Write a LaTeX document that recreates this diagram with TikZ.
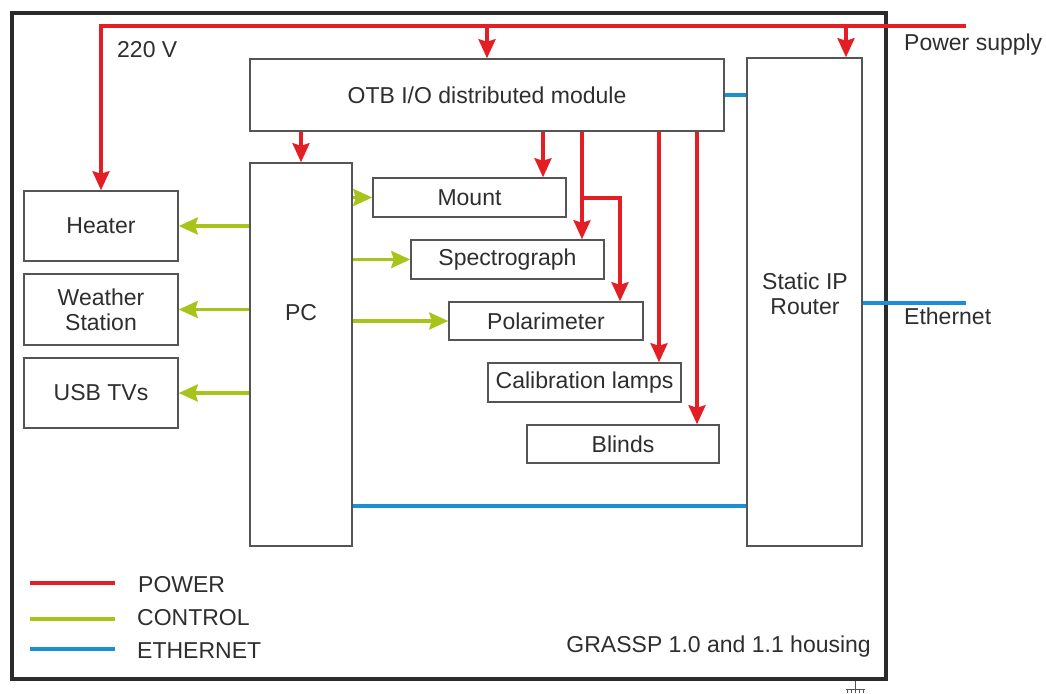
\documentclass[tikz,border=0pt]{standalone}
\usepackage{fontspec}
\setmainfont{Liberation Sans}
\usetikzlibrary{arrows.meta}
\definecolor{pwr}{HTML}{E31E24}
\definecolor{ctl}{HTML}{A8C41A}
\definecolor{eth}{HTML}{1A90D4}
\definecolor{txtc}{HTML}{2E2E2E}
\definecolor{boxc}{HTML}{555555}
\definecolor{framec}{HTML}{2B2B2B}
\tikzset{
  box/.style={draw=boxc, line width=1.5pt, fill=white, inner sep=0pt, text=txtc,
    font=\fontsize{23}{25}\selectfont, align=center},
  lbl/.style={inner sep=0pt, text=txtc, font=\fontsize{23}{25}\selectfont, align=center},
  pw/.style={draw=pwr, line width=3.3pt},
  ct/.style={draw=ctl, line width=3.3pt},
  et/.style={draw=eth, line width=3.3pt},
  tipA/.tip={Stealth[length=19pt, width=17pt, inset=2.5pt]},
}
\begin{document}
\begin{tikzpicture}[x=1pt,y=-1pt]
\useasboundingbox (0,0) rectangle (1046,693);
% housing frame
\draw[framec, line width=4.5pt] (12,13) rectangle (886,679);
% ground mark
\draw[boxc, line width=1pt] (855,681) -- (855,689);
\draw[boxc, line width=1pt] (846,689) -- (865,689);
\foreach \gx in {847,851,855,859,863} \draw[boxc, line width=0.8pt] (\gx,689) -- (\gx,693);

% boxes
\node[box, minimum width=474pt, minimum height=72pt] (otb) at (487,95) {OTB I/O distributed module};
\node[box, minimum width=115pt, minimum height=488pt] (router) at (804.5,302) {};
\node[lbl] (routerlbl) at (805,294) {Static IP\\Router};
\node[box, minimum width=102pt, minimum height=383pt] (pc) at (301,354.5) {};
\node[lbl] (pclbl) at (301,313) {PC};
\node[box, minimum width=154pt, minimum height=70pt] (heater) at (101,226) {Heater};
\node[box, minimum width=154pt, minimum height=71pt] (weather) at (101,309.5) {Weather\\Station};
\node[box, minimum width=154pt, minimum height=70pt] (usb) at (101,393) {USB TVs};
\node[box, minimum width=193pt, minimum height=39pt] (mount) at (469.5,197.5) {Mount};
\node[box, minimum width=193pt, minimum height=39pt] (spec) at (507.5,259.5) {Spectrograph};
\node[box, minimum width=194pt, minimum height=38pt] (pol) at (546,321) {Polarimeter};
\node[box, minimum width=193pt, minimum height=39pt] (cal) at (584.5,382.5) {Calibration lamps};
\node[box, minimum width=192pt, minimum height=38pt] (blinds) at (623,444) {Blinds};

% helper coordinates
\coordinate (psL) at (101,26);
\coordinate (psR) at (966,26);
\coordinate (xotb) at (487,26);
\coordinate (xrt) at (846,26);
\coordinate (xm) at (543,0);
\coordinate (xs) at (582,0);
\coordinate (xp) at (620,0);
\coordinate (xc) at (659,0);
\coordinate (xb) at (697,0);
\coordinate (yb) at (0,198);
\coordinate (yeo) at (0,95);
\coordinate (yepc) at (0,506);
\coordinate (yer) at (0,303);
\coordinate (ethR) at (966,303);

% power
\draw[pw, -{tipA[fill=pwr]}] (psR) -- (psL) -- (heater.north);
\draw[pw, -{tipA[fill=pwr]}] (xotb) -- (otb.north);
\draw[pw, -{tipA[fill=pwr]}] (xrt) -- (xrt |- router.north);
\draw[pw, -{tipA[fill=pwr]}] (otb.south -| pc.north) -- (pc.north);
\draw[pw, -{tipA[fill=pwr]}] (xm |- otb.south) -- (xm |- mount.north);
\draw[pw, -{tipA[fill=pwr]}] (xs |- otb.south) -- (xs |- spec.north);
\draw[pw, -{tipA[fill=pwr]}] (xs |- yb) -- (xp |- yb) -- (xp |- pol.north);
\draw[pw, -{tipA[fill=pwr]}] (xc |- otb.south) -- (xc |- cal.north);
\draw[pw, -{tipA[fill=pwr]}] (xb |- otb.south) -- (xb |- blinds.north);

% control
\draw[ct, -{tipA[fill=ctl]}] (pc.west |- heater.east) -- (heater.east);
\draw[ct, -{tipA[fill=ctl]}] (pc.west |- weather.east) -- (weather.east);
\draw[ct, -{tipA[fill=ctl]}] (pc.west |- usb.east) -- (usb.east);
\draw[ct, -{tipA[fill=ctl]}] (pc.east |- mount.west) -- (mount.west);
\draw[ct, -{tipA[fill=ctl]}] (pc.east |- spec.west) -- (spec.west);
\draw[ct, -{tipA[fill=ctl]}] (pc.east |- pol.west) -- (pol.west);

% ethernet
\draw[et] (otb.east |- yeo) -- (router.west |- yeo);
\draw[et] (pc.east |- yepc) -- (router.west |- yepc);
\draw[et] (router.east |- yer) -- (ethR);

% labels
\node[lbl, anchor=base west] (v220) at (117,58) {220 V};
\node[lbl, anchor=base west] (psup) at (904,51) {Power supply};
\node[lbl, anchor=base west] (ethl) at (904,324) {Ethernet};
\node[lbl, anchor=base east] (house) at (871,652) {GRASSP 1.0 and 1.1 housing};

% legend
\coordinate (l1a) at (30,583); \coordinate (l1b) at (115,583);
\coordinate (l2a) at (30,619); \coordinate (l2b) at (115,619);
\coordinate (l3a) at (30,649); \coordinate (l3b) at (115,649);
\draw[pw] (l1a) -- (l1b);
\draw[ct] (l2a) -- (l2b);
\draw[et] (l3a) -- (l3b);
\node[lbl, anchor=base west] (lp) at (138,592) {POWER};
\node[lbl, anchor=base west] (lc) at (137,625) {CONTROL};
\node[lbl, anchor=base west] (le) at (137,658) {ETHERNET};
\end{tikzpicture}
\end{document}
